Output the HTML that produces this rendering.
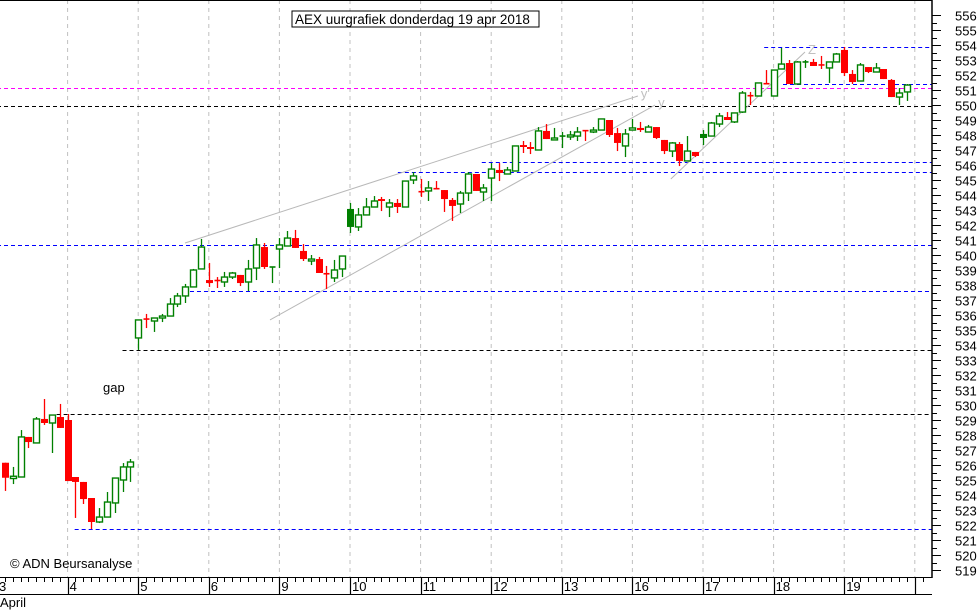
<!DOCTYPE html>
<html><head><meta charset="utf-8">
<style>
html,body{margin:0;padding:0;background:#fff;}
svg{display:block;font-family:"Liberation Sans",Tahoma,sans-serif;}
</style></head>
<body>
<svg id="chart" width="980" height="610" viewBox="0 0 980 610" xmlns="http://www.w3.org/2000/svg">
  <rect x="0" y="0" width="980" height="610" fill="#fff"/>
  <g id="grid"></g>
  <g id="levels"></g>
  <g id="trends"></g>
  <g id="candles"></g>
  <g id="yaxis"></g>
  <g id="xaxis"></g>
  <rect x="292" y="11" width="247" height="16" fill="#fff" stroke="#000" stroke-width="1"/>
  <text x="295" y="24" font-size="13.5" fill="#000">AEX uurgrafiek donderdag 19 apr 2018</text>
  <text x="103" y="392" font-size="13" fill="#000">gap</text>
  <text x="10" y="568" font-size="13" fill="#000">© ADN Beursanalyse</text>
  <text x="0" y="607" font-size="13" fill="#000">April</text>
</svg>
<script>
const dayLabels = ['3','4','5','6','9','10','11','12','13','16','17','18','19'];
const yTicks = [519,520,521,522,523,524,525,526,527,528,529,530,531,532,533,534,535,536,537,538,539,540,541,542,543,544,545,546,547,548,549,550,551,552,553,554,555,556];
const opens = [526.15,525.1,525.2,527.87,527.47,529.07,528.8,529.2,
529,525.2,524.87,523.8,522.2,522.53,523.47,525,525.87,
534.47,535.73,535.6,535.8,535.93,536.73,537.27,537.87,539.07,
538.33,538.3,538.2,538.53,538.67,538.2,539.13,540.53,539.19,
540.4,540.6,541.13,540.27,539.6,539.73,538.75,538.47,539.07,
541.87,541.87,542.67,543.2,543.73,543.2,543.47,543.2,545,
544.22,544.27,544.42,544.33,543.67,543.4,544.13,545.4,544.2,
545.13,545.67,545.4,545.6,547.33,547.2,547,548.27,547.67,
547.87,547.87,547.93,548.29,548.2,548.33,549,548.13,547.27,
548.33,548.47,548.2,548.53,547.67,546.93,547.4,546.27,546.87,
547.8,547.93,548.73,549.2,548.87,549.53,550.62,550.6,551.42,
550.6,552.4,552.8,551.4,552.8,552.87,552.67,552.47,552.87,
553.67,552.07,551.6,552.53,552.2,552.4,551.67,550.53,550.87];
const highs = [526.15,525.87,528.33,527.87,529.2,530.4,529.33,530.07,
529.4,525.2,524.87,523.8,523.13,524.2,525.13,526.13,526.4,
535.67,536.07,535.8,536.07,537.13,537.47,538.07,539.07,541.07,
539.47,538.53,538.87,538.87,538.67,539.67,541.13,540.8,539.2,
541.13,541.6,541.67,540.73,540,539.87,539.27,539.67,539.93,
543.47,543.13,543.8,543.93,543.87,543.73,543.73,544.93,545.53,
545.07,544.93,544.93,544.33,543.8,544.27,545.53,545.4,544.73,
546.13,546.13,545.87,547.27,547.6,547.53,548.53,548.73,548.47,
548.2,548.27,548.53,548.33,548.53,549.07,549,548.47,548.4,
549.07,548.87,548.67,548.53,547.67,547.53,547.53,547.93,546.87,
548.33,548.87,549.47,549.53,549.47,550.93,550.87,551.47,552.33,
552.33,553.8,553,552.93,553,553.07,553.27,552.87,553.47,
553.87,552.33,552.8,552.53,552.8,552.4,551.73,551.13,551.4];
const lows = [524.27,524.73,525.2,527.13,527.47,528.67,526.8,528.47,
524.93,522.47,523.4,521.73,522.13,522.53,522.8,524.2,524.87,
533.67,535.13,534.87,535.53,535.93,536.53,536.8,537.87,539.07,
537.87,537.8,537.87,538.4,537.93,537.6,538.33,539.07,538.13,
539.13,540.6,540.47,539.6,539.33,538.8,537.73,538.2,538.53,
541.47,541.6,542.67,543.2,542.93,542.53,542.8,543.2,544.73,
543.87,543.6,544.4,542.87,542.27,542.8,543.6,544.27,543.6,
543.6,544.93,545.4,545.6,546.8,546.73,547,547.73,547.67,
547.13,547.67,547.6,547.6,548.13,548.33,547.87,546.93,546.53,
548.33,548.2,548.2,547.73,546.73,546.53,545.93,546.27,546.53,
547.33,547.93,548.53,549,548.8,549.47,550,550.6,551.4,
550.6,552.4,551.4,551.4,552.47,552.6,552.4,551.47,552.87,
551.93,551.4,551.6,552.13,552.2,551.73,550.53,550,550.27];
const closes = [525.15,525.25,527.87,527.53,529.07,528.8,529.33,528.47,
524.93,524.87,523.73,522.2,522.53,523.53,525.13,525.87,526.2,
535.67,535.7,535.8,535.93,536.73,537.27,537.87,539,540.53,
538.13,538.27,538.53,538.8,538.13,539.07,540.67,539.2,539.2,
540.67,541.13,540.47,539.73,539.73,538.8,538.73,539,539.93,
543.07,542.67,543.2,543.6,543.6,543.47,543.2,544.93,545.27,
544.2,544.47,544.4,543.73,543.27,544.13,545.4,544.27,544.47,
545.73,545.47,545.67,547.27,547.2,547.07,548.27,547.73,547.8,
547.93,548,548.2,548.27,548.33,549.07,548,547.47,548.07,
548.47,548.33,548.53,547.8,546.93,547.47,546.27,546.93,546.6,
548.07,548.8,549.27,549,549.47,550.8,550.6,551.47,551.4,
552.33,552.73,551.4,552.87,552.87,552.6,552.6,552.87,553.4,
552.13,551.53,552.67,552.2,552.47,551.73,550.53,550.8,551.33];
const filledUp = [44, 89];
const levelValues = [549.93, 551.13, 551.4, 553.87, 546.2, 545.53, 540.67, 537.6, 533.67, 529.4, 521.73];
const levelStartSlots = [0, 0, 100.2, 97.8, 61.8, 51.1, 0, 24.6, 16, 7.6, 9.9];
const levelColors = ['#000','#ff00ff','#0000ff','#0000ff','#0000ff','#0000ff','#0000ff','#0000ff','#000','#000','#0000ff'];
const trendStartSlots = [23.97, 34.8, 85.9];
const trendStartValues = [540.8, 535.67, 545.07];
const trendEndSlots = [81.7, 83.9, 103];
const trendEndValues = [550.6, 550, 553.53];
const trendLabels = ["y'", "y", "Z"];

const NS = 'http://www.w3.org/2000/svg';
const SLOT = 70.6/9, X0 = -3, PLOT_R = 932, AXIS_Y = 577;
function xs(slot){ return X0 + slot*SLOT; }
function yv(v){ return 570 - (v-519)*15; }
function mk(tag, attrs, parent){ const e=document.createElementNS(NS,tag); for(const k in attrs) e.setAttribute(k,attrs[k]); parent.appendChild(e); return e; }

const grid=document.getElementById('grid');
for(let d=1; d<=dayLabels.length; d++){
  const x=xs(d*9);
  const l=mk('line',{x1:x,y1:0,x2:x,y2:AXIS_Y,stroke:'#c0c0c0','stroke-dasharray':'4,4','stroke-width':1},grid);
  
  
}

const lv=document.getElementById('levels');
levelValues.forEach((v,i)=>{
  const y=Math.round(yv(v))+0.5;
  const l=mk('line',{x1:xs(levelStartSlots[i]),y1:y,x2:PLOT_R,y2:y,stroke:levelColors[i],'stroke-dasharray':'4,3','stroke-width':1},lv);
  
  
});

const tr=document.getElementById('trends');
trendStartSlots.forEach((s,i)=>{
  const x2=xs(trendEndSlots[i]), y2=yv(trendEndValues[i]);
  const l=mk('line',{x1:xs(s),y1:yv(trendStartValues[i]),x2:x2,y2:y2,stroke:'#b8b8b8','stroke-width':1},tr);
  
  
  const t=mk('text',{x:x2+3,y:y2+2,'font-size':13,fill:'#c0c0c0'},tr);
  t.textContent=trendLabels[i];
  
  
});

const cg=document.getElementById('candles');
opens.forEach((o,j)=>{
  const c=closes[j], h=highs[j], lo=lows[j];
  const x=Math.round(xs(j+1))+0.5;
  const up=c>=o;
  const col=up?'#008000':'#ff0000';
  const g=mk('g',{},cg);
  
  
  mk('line',{x1:x,y1:yv(h),x2:x,y2:yv(lo),stroke:col,'stroke-width':1.3},g);
  const top=yv(Math.max(o,c)), bot=yv(Math.min(o,c));
  const hgt=bot-top;
  if(hgt<1.5){
    mk('line',{x1:x-3,y1:top,x2:x+3,y2:top,stroke:col,'stroke-width':1.6},g);
  } else if(up && filledUp.indexOf(j)<0){
    mk('rect',{x:x-3,y:top,width:6,height:hgt,fill:'#fff',stroke:col,'stroke-width':1.4},g);
  } else {
    mk('rect',{x:x-3.5,y:top,width:7,height:hgt,fill:col},g);
  }
});

const ya=document.getElementById('yaxis');
mk('line',{x1:PLOT_R,y1:0,x2:PLOT_R,y2:AXIS_Y+1,stroke:'#000','stroke-width':1.5},ya);
mk('line',{x1:0,y1:0.5,x2:PLOT_R,y2:0.5,stroke:'#000','stroke-width':1},ya);
yTicks.forEach(v=>{
  const y=Math.round(yv(v))+0.5;
  const t=mk('line',{x1:PLOT_R,y1:y,x2:PLOT_R+9,y2:y,stroke:'#000','stroke-width':1},ya);
  
  
  const hy=Math.round(yv(v+0.5))+0.5;
  if(v<556){ mk('line',{x1:PLOT_R,y1:hy,x2:PLOT_R+5,y2:hy,stroke:'#000','stroke-width':1},ya); }
  const lb=mk('text',{x:955,y:y+5,'font-size':13,fill:'#000'},ya);
  lb.textContent=String(v);
  
  
});

const xa=document.getElementById('xaxis');
mk('line',{x1:0,y1:AXIS_Y+0.5,x2:PLOT_R,y2:AXIS_Y+0.5,stroke:'#000','stroke-width':1},xa);
mk('line',{x1:0,y1:594.5,x2:PLOT_R,y2:594.5,stroke:'#000','stroke-width':1},xa);
for(let s=0; s<=dayLabels.length*9+1; s++){
  const x=Math.round(xs(s))+0.5;
  if(x<0||x>PLOT_R) continue;
  if(s%9===0){
    mk('line',{x1:x,y1:AXIS_Y,x2:x,y2:594,stroke:'#000','stroke-width':1.2},xa);
  } else {
    mk('line',{x1:x,y1:AXIS_Y,x2:x,y2:AXIS_Y+5,stroke:'#000','stroke-width':1},xa);
  }
}
dayLabels.forEach((d,i)=>{
  const t=mk('text',{x:xs(i*9)+2,y:591,'font-size':13,fill:'#000'},xa);
  t.textContent=d;
  
  
});
</script>
</body></html>
